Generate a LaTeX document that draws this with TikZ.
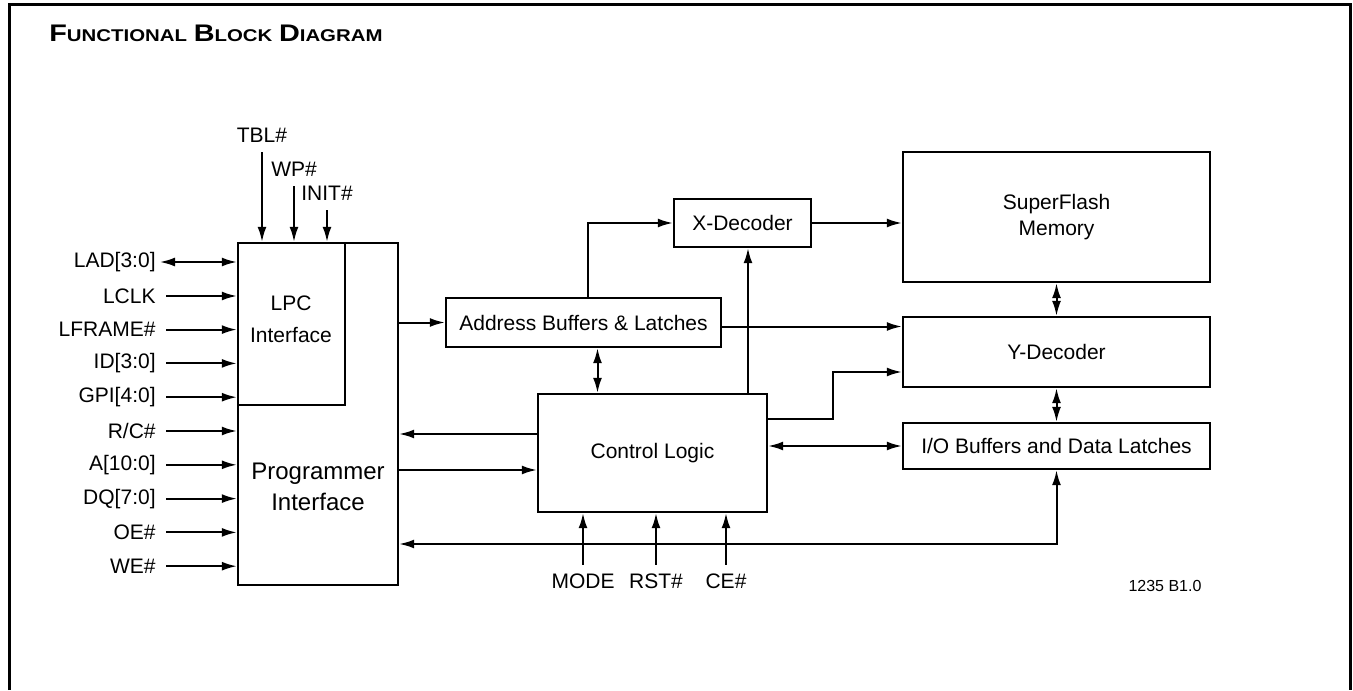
\documentclass[tikz,border=0pt]{standalone}
\usepackage{fontspec}
\setmainfont{Liberation Sans}
\newfontfamily\titlefont[FakeStretch=1.2]{Liberation Sans}
\usetikzlibrary{arrows.meta,positioning,calc}

\begin{document}
\begin{tikzpicture}[x=0.5pt, y=-0.5pt,
                    every node/.style = {font=\fontsize{10.5}{13}\selectfont},
                    block/.style = {rectangle, draw=black, line width=1.2pt, inner sep=0pt, align=center},
                    pin label/.style = {anchor=east, inner xsep=5pt, inner ysep=0pt},
                    top label/.style = {anchor=base, inner xsep=0pt, inner ysep=5pt},
                    bottom label/.style = {anchor=base, inner xsep=0pt, inner ysep=4pt},
                    signal/.style = {->, line width=1pt},
                    bus/.style = {<->, line width=1pt},
                    >={Latex[length=7.5pt,width=4.5pt]} ]

                \useasboundingbox (0,0) rectangle (1353,690);
                \draw[line width=1.5pt] (9,690) -- (9,5) -- (1350,5) -- (1350,690);
                \node [anchor=base west, inner sep=0pt, font=\titlefont\bfseries] (title) at (49,42)
                      {{\fontsize{12}{14}\selectfont F}{\fontsize{8.5}{10}\selectfont UNCTIONAL}
                       {\fontsize{12}{14}\selectfont B}{\fontsize{8.5}{10}\selectfont LOCK}
                       {\fontsize{12}{14}\selectfont D}{\fontsize{8.5}{10}\selectfont IAGRAM}};

                % interface blocks
                \node [block, minimum width=80pt, minimum height=171pt] (prog) at (318,414) {};
                \node [font=\fontsize{12}{15.5}\selectfont, align=center] (progtext) at (318,487) {Programmer\\Interface};
                \node [block, minimum width=53.5pt, minimum height=81pt] (lpc) at (291.5,324) {};
                \node [font=\fontsize{10.5}{16}\selectfont, align=center] (lpctext) at (291,319) {LPC\\Interface};

                % core blocks
                \node [block, minimum width=137.5pt, minimum height=24.5pt] (abl) at (583.5,322.5) {Address Buffers \& Latches};
                \node [block, minimum width=68.5pt, minimum height=24pt] (xdec) at (742.5,223) {X-Decoder};
                \node [block, minimum width=114.5pt, minimum height=59pt] (ctrl) at (652.5,453) {Control Logic};
                \node [block, minimum width=153.5pt, minimum height=65pt] (sfm) at (1056.5,217) {SuperFlash\\Memory};
                \node [block, minimum width=153.5pt, minimum height=35pt] (ydec) at (1056.5,352) {Y-Decoder};
                \node [block, minimum width=153.5pt, minimum height=23pt] (io) at (1056.5,446) {I/O Buffers and Data Latches};

                % pins left
                \node [pin label] (lad) at (166,262) {LAD[3:0]} edge [bus, shorten <=-3pt] (lad -| lpc.west);
                \node [pin label] (lclk) at (166,296) {LCLK} edge [signal] (lclk -| lpc.west);
                \node [pin label] (lframe) at (166,329.6) {LFRAME\#} edge [signal] (lframe -| lpc.west);
                \node [pin label] (id) at (166,363.4) {ID[3:0]} edge [signal] (id -| lpc.west);
                \node [pin label] (gpi) at (166,397.2) {GPI[4:0]} edge [signal] (gpi -| lpc.west);
                \node [pin label] (rc) at (166,431) {R/C\#} edge [signal] (rc -| prog.west);
                \node [pin label] (addr) at (166,464.8) {A[10:0]} edge [signal] (addr -| prog.west);
                \node [pin label] (dq) at (166,498.6) {DQ[7:0]} edge [signal] (dq -| prog.west);
                \node [pin label] (oe) at (166,532.4) {OE\#} edge [signal] (oe -| prog.west);
                \node [pin label] (we) at (166,566.2) {WE\#} edge [signal] (we -| prog.west);

                % pins top
                \node [top label] (tbl) at (262,142) {TBL\#} edge [signal] (tbl |- lpc.north);
                \node [top label] (wp) at (294,176) {WP\#} edge [signal] (wp |- lpc.north);
                \node [top label] (init) at (327,200) {INIT\#} edge [signal] (init |- lpc.north);

                % pins bottom
                \node [bottom label] (mode) at (583,588) {MODE} edge [signal] (mode |- ctrl.south);
                \node [bottom label] (rst) at (656,588) {RST\#} edge [signal] (rst |- ctrl.south);
                \node [bottom label] (ce) at (726,588) {CE\#} edge [signal] (ce |- ctrl.south);

                % internal connections
                \draw[signal] (prog.east |- abl) -- (abl.west);
                \draw[signal] ([xshift=2.25pt]abl.north) |- (xdec.west);
                \draw[signal] ([xshift=2.75pt]xdec.south |- ctrl.north) -- ([xshift=2.75pt]xdec.south);
                \draw[bus] ([xshift=7pt]abl.south) -- ([xshift=7pt]abl.south |- ctrl.north);
                \draw[signal] (xdec.east) -- (xdec.east -| sfm.west);
                \draw[signal] ([yshift=-2pt]abl.east) -- ([yshift=-2pt]abl.east -| ydec.west);
                \draw[bus] (sfm.south) -- (ydec.north);
                \draw[bus] (ydec.south) -- (io.north);
                \draw[signal] ([yshift=17pt]ctrl.east) -- ++(65,0) |- ([yshift=-10pt]ydec.west);
                \draw[bus] (ctrl.east |- io) -- (io.west);
                \draw[signal] ([yshift=9.5pt]ctrl.west) -- ([yshift=9.5pt]ctrl.west -| prog.east);
                \draw[signal] ([yshift=-8.5pt]ctrl.west -| prog.east) -- ([yshift=-8.5pt]ctrl.west);
                \draw[bus] ([yshift=-65pt]prog.east) -| (io.south);

                \node [font=\fontsize{8}{10}\selectfont] (figid) at (1165,586) {1235 B1.0};
\end{tikzpicture}
\end{document}
